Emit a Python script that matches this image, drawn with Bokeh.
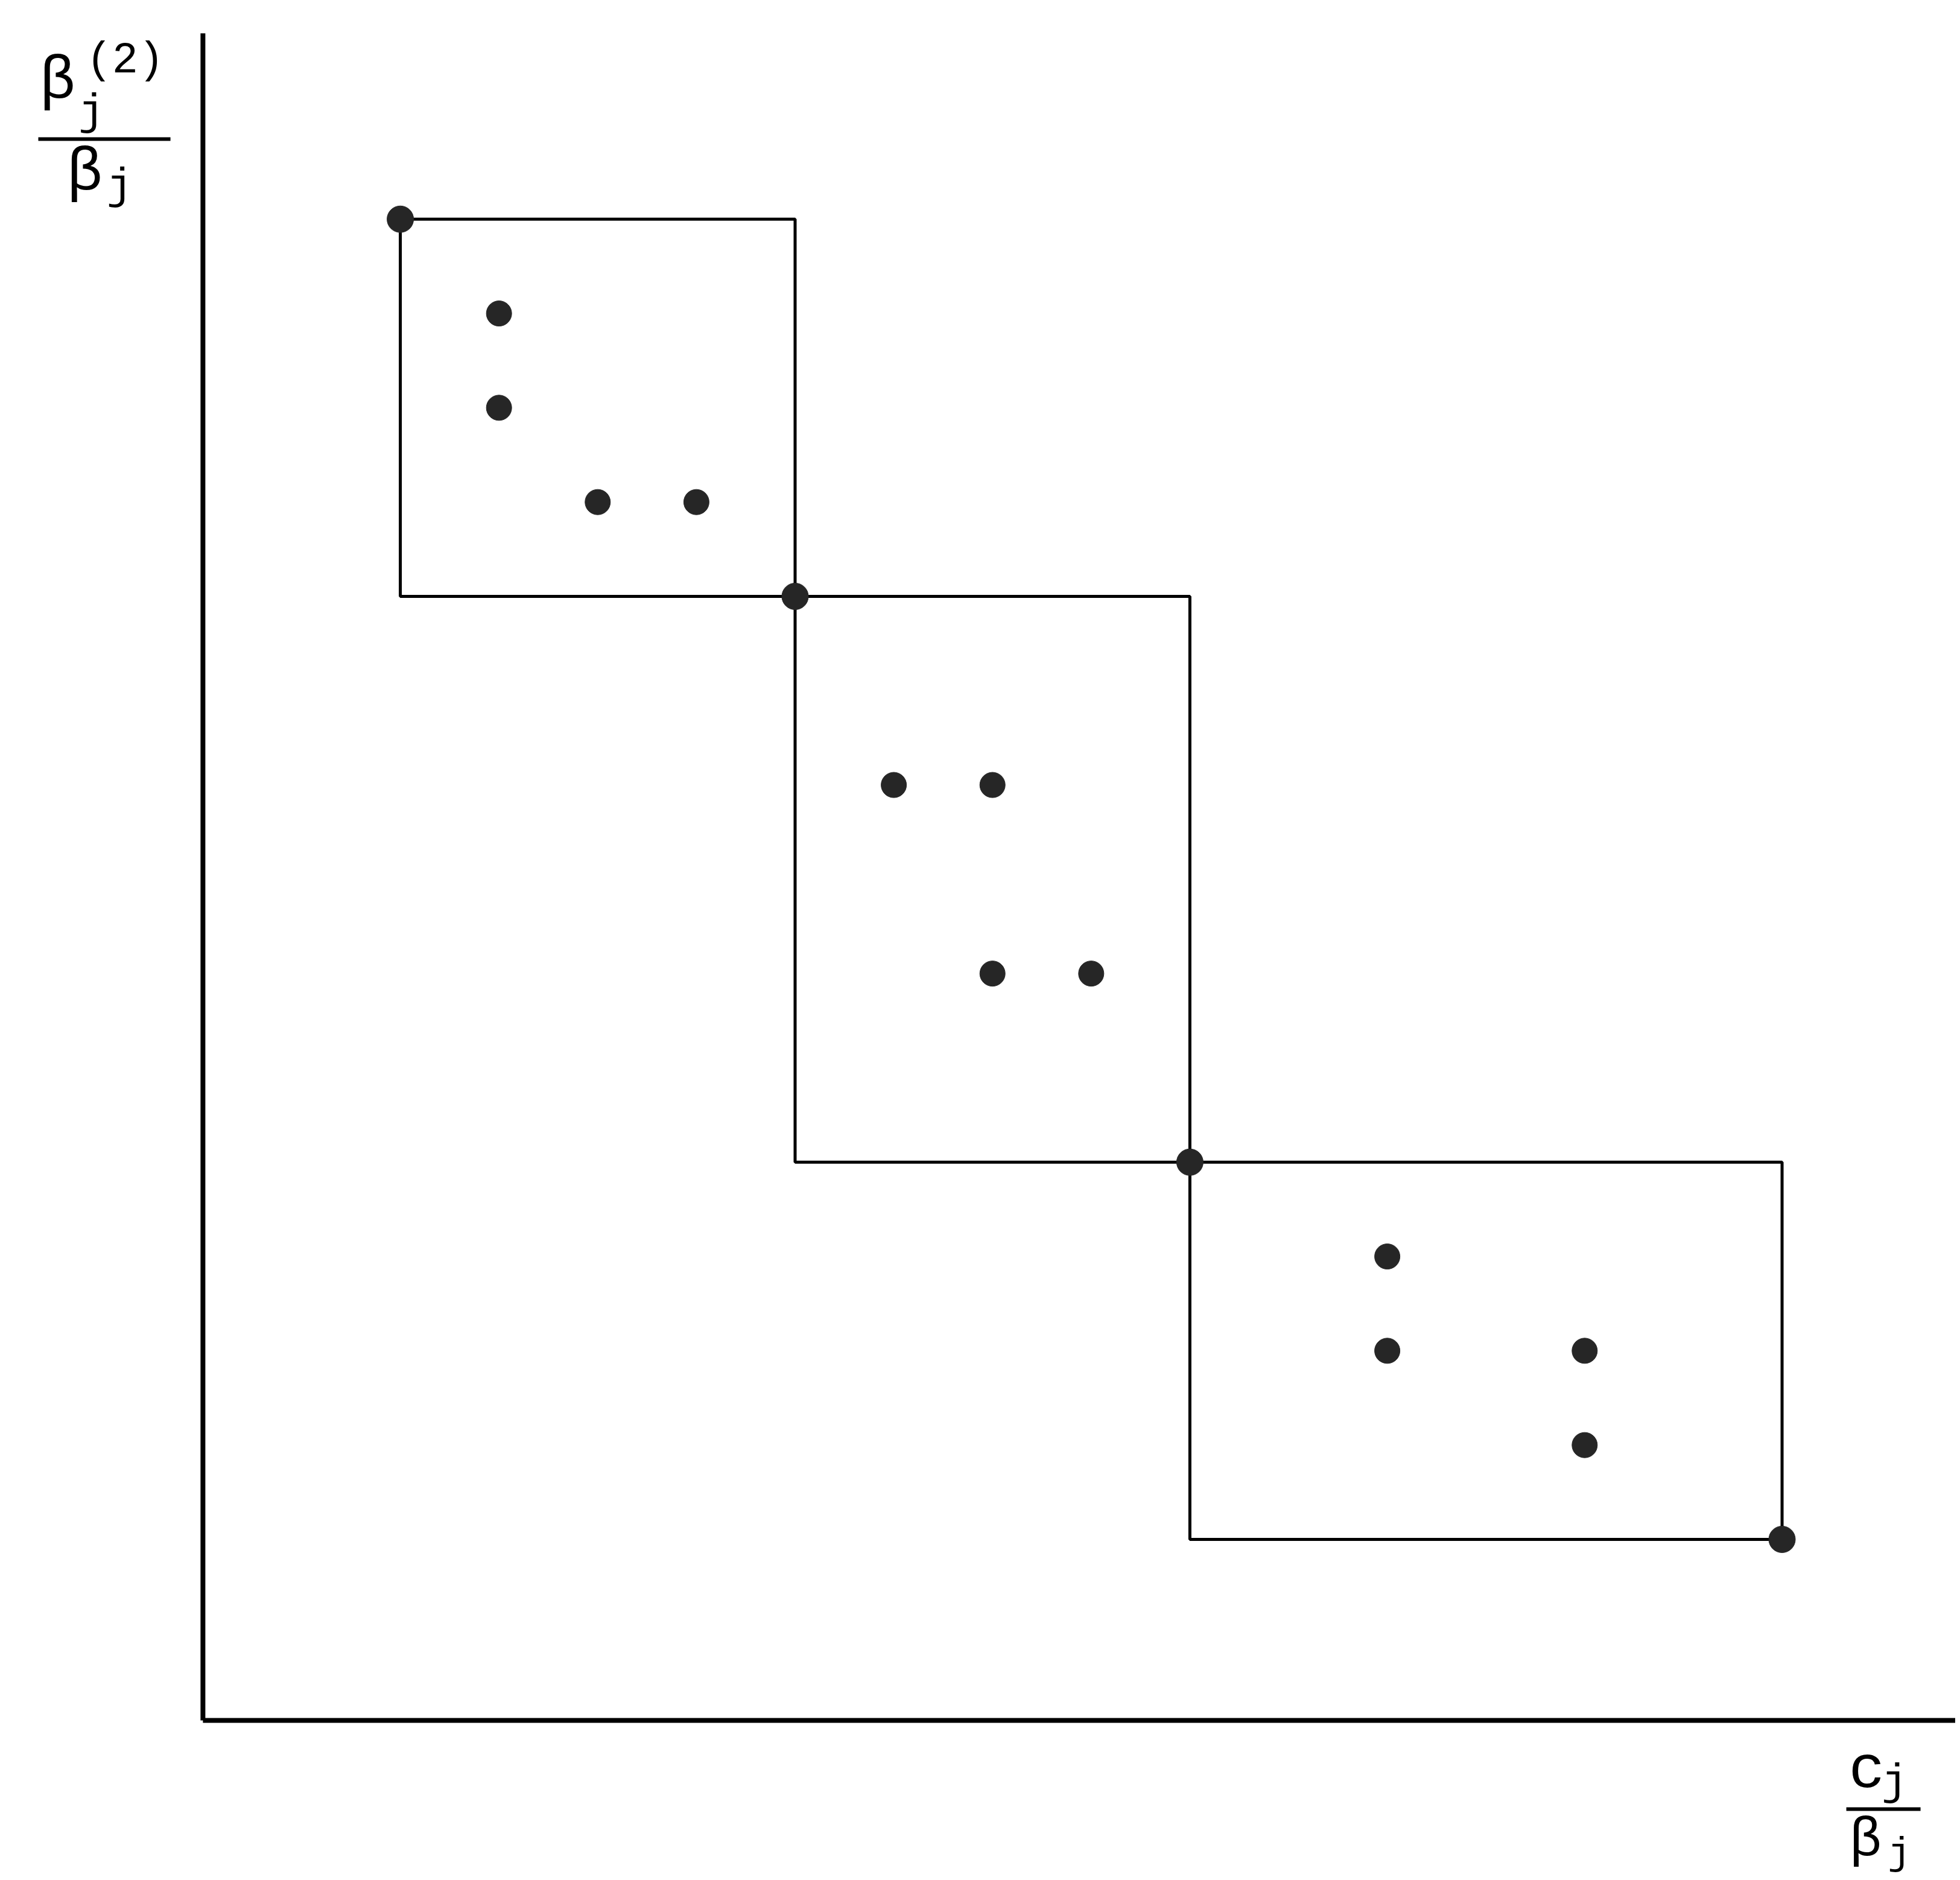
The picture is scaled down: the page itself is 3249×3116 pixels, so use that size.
from bokeh.plotting import figure
from bokeh.models import Range1d, Label
from bokeh.embed import file_html
from bokeh.resources import INLINE

# ---- data (arbitrary units; no tick labels in the original) ----
box_left = [2, 6, 10]
box_right = [6, 10, 16]
box_top = [16, 12, 6]
box_bottom = [12, 6, 2]

corner_x = [2, 6, 10, 16]
corner_y = [16, 12, 6, 2]

inner_x = [3, 3, 4, 5, 7, 8, 8, 9, 12, 12, 14, 14]
inner_y = [15, 14, 13, 13, 10, 10, 8, 8, 5, 4, 4, 3]

AXIS_X0 = 0.0
AXIS_Y0 = 0.08
AXIS_YTOP = 17.97

W, H = 3241, 3108
X0, X1 = -2.053, 17.757
Y0, Y1 = -1.564, 18.321
p = figure(width=W, height=H, output_backend="svg", toolbar_location=None,
           x_range=Range1d(X0, X1), y_range=Range1d(Y0, Y1), min_border=0)
p.outline_line_color = None
p.grid.visible = False
p.axis.visible = False

# axis lines
p.segment(x0=[AXIS_X0, AXIS_X0], y0=[AXIS_Y0, AXIS_Y0], x1=[X1, AXIS_X0], y1=[AXIS_Y0, AXIS_YTOP],
          line_color="black", line_width=8)

p.quad(left=box_left, right=box_right, top=box_top, bottom=box_bottom,
       fill_color=None, line_color="black", line_width=5)

DOT = "#262626"
p.scatter(corner_x, corner_y, size=44, marker="circle", fill_color=DOT, line_color=DOT)
p.scatter(inner_x, inner_y, size=42, marker="circle", fill_color=DOT, line_color=DOT)

# fraction bars of the two axis labels
p.segment(x0=[-1.668, 16.651], y0=[16.849, -0.860], x1=[-0.329, 17.403], y1=[16.849, -0.860],
          line_color="black", line_width=6)

def txt(x, y, s, size):
    p.add_layout(Label(x=x, y=y, x_units="data", y_units="data", text=s,
                       text_font="Liberation Mono", text_font_size=f"{size}px",
                       text_color="black", text_align="center", text_baseline="middle"))

# y-axis label:  beta_j^(2) / beta_j
txt(-1.472, 17.457, "β", 100)
txt(-0.788, 17.681, "(2)", 72)
txt(-1.130, 17.125, "j", 72)
txt(-1.197, 16.485, "β", 100)
txt(-0.843, 16.338, "j", 72)

# x-axis label:  c_j / beta_j
txt(16.859, -0.457, "c", 100)
txt(17.140, -0.585, "j", 72)
txt(16.847, -1.193, "β", 90)
txt(17.189, -1.334, "j", 64)

open("out.html", "w").write(file_html(p, INLINE))
